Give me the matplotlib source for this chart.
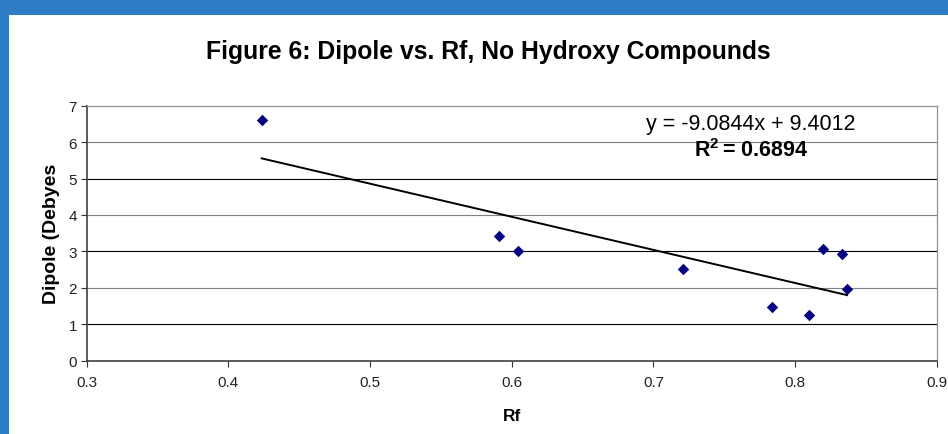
import matplotlib
matplotlib.use("Agg")
import matplotlib.pyplot as plt
import numpy as np

# Rf and dipole moment for each compound (no hydroxy groups)
rf = [0.4235, 0.5912, 0.6047, 0.7211, 0.7835, 0.8099, 0.8200, 0.8333, 0.8367]
dipole = [6.61, 3.42, 3.00, 2.52, 1.48, 1.25, 3.07, 2.94, 1.97]

# linear trendline as reported
slope = -9.0844
intercept = 9.4012
r_squared = 0.6894

x_ticks = [0.3, 0.4, 0.5, 0.6, 0.7, 0.8, 0.9]
y_ticks = [0, 1, 2, 3, 4, 5, 6, 7]

plt.rcParams['font.family'] = ['Liberation Sans', 'DejaVu Sans']
plt.rcParams['mathtext.fontset'] = 'custom'
plt.rcParams['mathtext.rm'] = 'Liberation Sans'
plt.rcParams['mathtext.bf'] = 'Liberation Sans:bold'

fig = plt.figure(figsize=(9.48, 4.35), dpi=100)
fig.patch.set_facecolor('white')

# blue frame along top and left edges
blue = '#2E7BC6'
fig.add_artist(plt.Rectangle((0, 1 - 16 / 435), 1, 16 / 435, transform=fig.transFigure,
                             color=blue, lw=0, zorder=0))
fig.add_artist(plt.Rectangle((0, 0), 9 / 948, 1, transform=fig.transFigure,
                             color=blue, lw=0, zorder=0))

ax = fig.add_axes([0.0915, 0.1685, 0.8966, 0.5862])
ax.set_xlim(0.3, 0.9)
ax.set_ylim(0, 7)

# horizontal gridlines, alternating shade
for yv in y_ticks[1:-1]:
    col = 'black' if yv % 2 == 1 else '#808080'
    ax.axhline(yv, color=col, lw=0.8, zorder=1)

ax.scatter(rf, dipole, marker='D', s=34, color='#000080', zorder=3, linewidths=0)

xfit = np.array([min(rf), max(rf)])
ax.plot(xfit, slope * xfit + intercept, color='black', lw=1.4, zorder=2)

ax.set_xticks(x_ticks)
ax.set_xticklabels([f"{v:g}" for v in x_ticks])
ax.set_yticks(y_ticks)
ax.tick_params(axis='both', direction='out', length=4, width=0.8, colors='#333333',
               labelcolor='#222222', labelsize=11, pad=6)
ax.tick_params(axis='y', pad=3)

for side in ['left', 'bottom']:
    ax.spines[side].set_color('#404040')
    ax.spines[side].set_linewidth(1.2)
for side in ['top', 'right']:
    ax.spines[side].set_color('#909090')
    ax.spines[side].set_linewidth(0.9)

ax.text(0.769, 6.50, f"y = {slope:.4f}x + {intercept:.4f}", fontsize=15.5,
        ha='center', va='center', color='black')
ax.text(0.769, 5.80, f"R$^\\mathbf{{2}}\\,$= {r_squared:.4f}", fontsize=15.5,
        ha='center', va='center', fontweight='bold', color='black')

ax.set_xlabel("Rf", fontsize=12.5, fontweight='bold', labelpad=14)
ax.set_ylabel("Dipole (Debyes", fontsize=14, fontweight='bold', labelpad=6)

fig.text(0.5148, 0.880, "Figure 6: Dipole vs. Rf, No Hydroxy Compounds", fontsize=17.8,
         fontweight='bold', ha='center', va='center')

fig.savefig("out.png", dpi=100)
